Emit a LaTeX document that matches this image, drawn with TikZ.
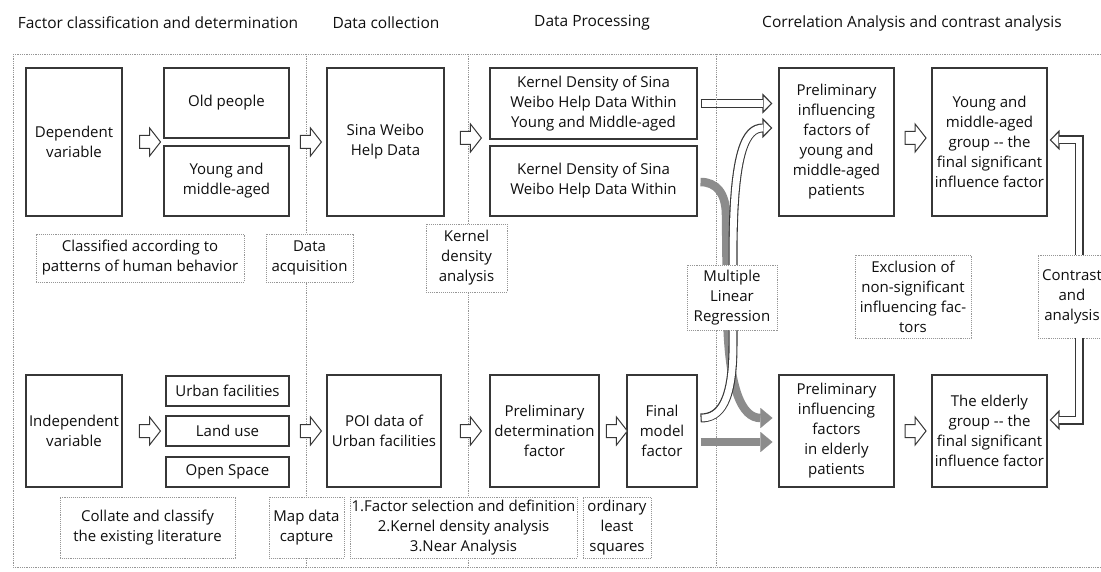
\documentclass[tikz,border=0pt]{standalone}
\usepackage{fontspec}
\setmainfont{Open Sans}
\usetikzlibrary{arrows.meta,shapes.arrows,calc}
\definecolor{boxcol}{RGB}{55,55,55}
\definecolor{dotcol}{RGB}{150,150,150}
\definecolor{arrowgray}{RGB}{140,140,140}
\definecolor{inkcol}{RGB}{15,15,15}
\pgfdeclarelayer{links}
\pgfsetlayers{links,main}
\begin{document}
\begin{tikzpicture}[x=1pt,y=-1pt,
  txt/.style={font=\fontsize{15}{20}\selectfont, text=inkcol, align=center, inner sep=0pt},
  hdr/.style={font=\fontsize{15.5}{20}\selectfont, text=inkcol, inner sep=0pt},
  box/.style={txt, draw=boxcol, line width=1.1pt, fill=white},
  lab/.style={txt, draw=dotcol, line width=0.9pt, densely dotted, fill=white},
  dotline/.style={draw=dotcol, line width=0.8pt, densely dotted},
  barrow/.style={single arrow, draw=boxcol, line width=1pt, fill=white,
    minimum height=21pt, inner xsep=0pt, inner ysep=6pt,
    single arrow head extend=7.5pt, single arrow tip angle=104},
  hollow/.style={line width=9pt, draw=boxcol,
    -{Triangle[width=20pt,length=10pt,fill=white,line width=1.1pt]}},
  hollowin/.style={line width=6.8pt, draw=white, shorten >=9.2pt},
  grayarr/.style={line width=8.5pt, draw=arrowgray,
    -{Triangle[width=20pt,length=12pt,line width=0.01pt]}}
]
\useasboundingbox (0,0) rectangle (1101,572);
\clip (0,0) rectangle (1101,572);

% stage headings
\node[hdr] (h1) at (158,23) {Factor classification and determination};
\node[hdr] (h2) at (386,23) {Data collection};
\node[hdr] (h3) at (592,23) {Data Processing};
\node[hdr] (h4) at (912,23) {Correlation Analysis and contrast analysis};

% dotted frame and stage separators
\draw[dotline] (13,54) rectangle (1115,567);
\draw[dotline] (306,54) -- (306,567);
\draw[dotline] (468,54) -- (468,567);
\draw[dotline] (716,54) -- (716,567);

% upper row: dependent variable
\node[box, minimum width=96pt, minimum height=148pt] (dep) at (74,142) {Dependent\\variable};
\node[box, minimum width=125pt, minimum height=70pt] (old) at (226.5,103) {Old people};
\node[box, minimum width=125pt, minimum height=70pt] (yng) at (226.5,181) {Young and\\middle-aged};
\node[lab, minimum width=208pt, minimum height=48pt] (cls) at (140,258) {Classified according to\\patterns of human behavior};
\node[lab, minimum width=87pt, minimum height=48pt] (acq) at (309.5,258) {Data\\acquisition};
\node[box, minimum width=117pt, minimum height=148pt] (sina) at (385.5,142) {Sina Weibo\\Help Data};
\node[lab, minimum width=81pt, minimum height=68pt] (kda) at (466.5,258) {Kernel\\density\\analysis};
\node[box, minimum width=207pt, minimum height=71pt] (kd1) at (593.5,103.5) {Kernel Density of Sina\\Weibo Help Data Within\\Young and Middle-aged};
\node[box, minimum width=207pt, minimum height=70pt] (kd2) at (593.5,181) {Kernel Density of Sina\\Weibo Help Data Within};
\node[box, minimum width=115pt, minimum height=148pt] (py) at (836.5,142) {Preliminary\\influencing\\factors of\\young and\\middle-aged\\patients};
\node[box, minimum width=115pt, minimum height=148pt] (fy) at (989.5,142) {Young and\\middle-aged\\group -{}- the\\final significant\\influence factor};
\node[lab, minimum width=116pt, minimum height=83pt] (excl) at (913,296.5) {Exclusion of\\non-significant\\influencing fac-\\tors};
\node[lab, minimum width=68pt, minimum height=83pt] (con) at (1072,296.5) {Contrast\\and\\analysis};

% lower row: independent variable
\node[box, minimum width=96pt, minimum height=112pt] (ind) at (74,431) {Independent\\variable};
\node[box, minimum width=123pt, minimum height=30pt] (urb) at (227.5,391) {Urban facilities};
\node[box, minimum width=123pt, minimum height=30pt] (land) at (227.5,431) {Land use};
\node[box, minimum width=123pt, minimum height=30pt] (open) at (227.5,472) {Open Space};
\node[lab, minimum width=175pt, minimum height=61pt] (col) at (147.5,527.5) {Collate and classify\\the existing literature};
\node[lab, minimum width=75pt, minimum height=61pt] (map) at (306.5,527.5) {Map data\\capture};
\node[box, minimum width=114pt, minimum height=112pt] (poi) at (384,431) {POI data of\\Urban facilities};
\node[box, minimum width=109pt, minimum height=112pt] (pdf) at (544.5,431) {Preliminary\\determination\\factor};
\node[lab, minimum width=227pt, minimum height=61pt] (fsel) at (463.5,527.5) {1.Factor selection and definition\\2.Kernel density analysis\\3.Near Analysis};
\node[box, minimum width=70pt, minimum height=112pt] (fm) at (662,431) {Final\\model\\factor};
\node[lab, minimum width=68pt, minimum height=61pt] (ols) at (617,527.5) {ordinary\\least\\squares};
\node[box, minimum width=115pt, minimum height=112pt] (pe) at (836.5,431) {Preliminary\\influencing\\factors\\in elderly\\patients};
\node[box, minimum width=115pt, minimum height=112pt] (fe) at (989.5,431) {The elderly\\group -{}- the\\final significant\\influence factor};

% block arrows between stages
\path (dep.east) -- node[barrow, pos=0.61] (a1) {} (dep.east -| yng.west);
\path (sina.west -| yng.east) -- node[barrow, pos=0.51] (a2) {} (sina.west);
\path ($(sina.east)+(0,-4)$) -- node[barrow, pos=0.53] (a3) {} ($(sina.east -| kd1.west)+(0,-4)$);
\path ($(py.east)+(0,-4)$) -- node[barrow, pos=0.5] (a4) {} ($(fy.west)+(0,-4)$);
\path (ind.east) -- node[barrow, pos=0.58] (a5) {} (ind.east -| land.west);
\path (poi.west -| land.east) -- node[barrow, pos=0.51] (a6) {} (poi.west);
\path (poi.east) -- node[barrow, pos=0.56] (a7) {} (poi.east -| pdf.west);
\path (pdf.east) -- node[barrow, pos=0.55] (a8) {} (fm.west);
\path (pe.east) -- node[barrow, pos=0.5] (a9) {} (fe.west);

% regression links (grey)
\draw[grayarr] ($(kd2.east)+(3,1)$) .. controls (716,182) and (726,193) .. (726,215)
  -- (727,300) .. controls (727,390) and (742,418) .. ($(pe.west)+(-6,-13)$);
\draw[grayarr] ($(fm.east)+(3,11)$) -- ($(fm.east -| pe.west)+(-6,11)$);

% regression links (outlined); the straight one lies under the separator
\begin{pgfonlayer}{links}
\draw[hollow] ($(kd1.east)+(3,0)$) -- ($(kd1.east -| py.west)+(-6,0)$);
\draw[hollowin, shorten <=1.1pt] ($(kd1.east)+(3,0)$) -- ($(kd1.east -| py.west)+(-6,0)$);
\end{pgfonlayer}
\draw[hollow] ($(fm.east)+(3,-13)$) .. controls (720,418) and (733,402) .. (733,345)
  -- (733,255) .. controls (733,150) and (746,128) .. ($(py.west)+(-6,-14)$);
\draw[hollowin, shorten <=1.1pt] ($(fm.east)+(3,-13)$) .. controls (720,418) and (733,402) .. (733,345)
  -- (733,255) .. controls (733,150) and (746,128) .. ($(py.west)+(-6,-14)$);

% contrast links
\draw[hollow] ([xshift=7pt]con.north) |- ([xshift=2pt,yshift=2pt]fy.east);
\draw[hollowin] ([xshift=7pt]con.north) |- ([xshift=2pt,yshift=2pt]fy.east);
\draw[hollow] ([xshift=7pt]con.south) |- ([xshift=2pt,yshift=11pt]fe.east);
\draw[hollowin] ([xshift=7pt]con.south) |- ([xshift=2pt,yshift=11pt]fe.east);

% regression label sits above the links
\node[lab, minimum width=90pt, minimum height=65pt] (mlr) at (732,297.5) {Multiple\\Linear\\Regression};
\end{tikzpicture}
\end{document}
